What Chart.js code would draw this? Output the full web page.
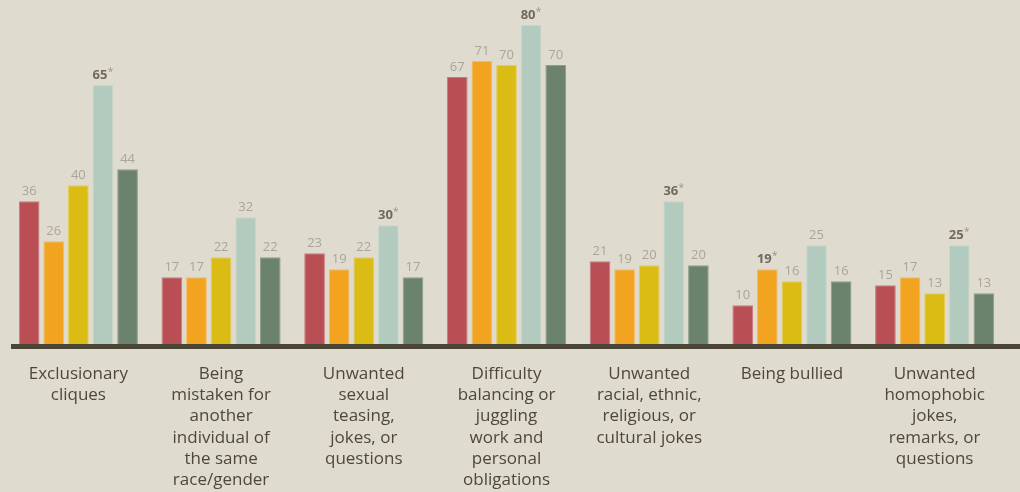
<!DOCTYPE html>
<html>
<head>
<meta charset="utf-8">
<script src="https://cdn.jsdelivr.net/npm/chart.js@4"></script>
<style>
  html, body { margin: 0; padding: 0; background: #dfdbcf; }
  #wrap { width: 1020px; height: 492px; position: relative; }
</style>
</head>
<body>
<div id="wrap"><canvas id="chart"></canvas></div>
<script>
// categories (one label line per entry)
const categories = [
  ["Exclusionary", "cliques"],
  ["Being", "mistaken for", "another", "individual of", "the same", "race/gender"],
  ["Unwanted", "sexual", "teasing,", "jokes, or", "questions"],
  ["Difficulty", "balancing or", "juggling", "work and", "personal", "obligations"],
  ["Unwanted", "racial, ethnic,", "religious, or", "cultural jokes"],
  ["Being bullied"],
  ["Unwanted", "homophobic", "jokes,", "remarks, or", "questions"]
]

// series values, percent
const group1 = [36, 17, 23, 67, 21, 10, 15]
const group2 = [26, 17, 19, 71, 19, 19, 17]
const group3 = [40, 22, 22, 70, 20, 16, 13]
const group4 = [65, 32, 30, 80, 36, 25, 25]
const group5 = [44, 22, 17, 70, 20, 16, 13]

// values flagged with an asterisk
const starred = [
  [false, false, false, false, false, false, false],
  [false, false, false, false, false, true, false],
  [false, false, false, false, false, false, false],
  [true, false, true, true, true, false, true],
  [false, false, false, false, false, false, false]
]

const fills = ["#b94f55", "#f2a420", "#dbbc15", "#b3cbbe", "#6b836d"]
const edges = ["#c97a7c", "#f5bb5c", "#e4cd55", "#c6d8cd", "#8c9f8d"]

const seriesValues = [group1, group2, group3, group4, group5]

// value labels above each bar
const valueLabels = {
  id: "valueLabels",
  afterDatasetsDraw(chart) {
    const ctx = chart.ctx
    ctx.save()
    ctx.textAlign = "center"
    ctx.textBaseline = "middle"
    chart.data.datasets.forEach((ds, di) => {
      const meta = chart.getDatasetMeta(di)
      meta.data.forEach((bar, i) => {
        const v = ds.data[i]
        if (starred[di][i]) {
          ctx.font = "bold 13px 'Open Sans'"
          ctx.fillStyle = "#6f6a5b"
          const w = ctx.measureText(String(v)).width
          ctx.fillText(String(v), bar.x - 3, bar.y - 10)
          ctx.font = "10px 'Open Sans'"
          ctx.fillStyle = "#9a9586"
          ctx.fillText("*", bar.x - 3 + w / 2 + 3, bar.y - 13)
        } else {
          ctx.font = "13px 'Open Sans'"
          ctx.fillStyle = "#aaa598"
          ctx.fillText(String(v), bar.x, bar.y - 10)
        }
      })
    })
    ctx.restore()
  }
}

// baseline and category names
const baseline = {
  id: "baseline",
  afterDraw(chart) {
    const ctx = chart.ctx
    const xs = chart.scales.x
    ctx.save()
    ctx.fillStyle = "#4a4535"
    ctx.fillRect(11, 344, chart.width - 11, 5)

    ctx.font = "17px 'Open Sans'"
    ctx.fillStyle = "#4d4839"
    ctx.textAlign = "center"
    ctx.textBaseline = "middle"
    categories.forEach((lines, i) => {
      const x = xs.getPixelForValue(i)
      lines.forEach((line, j) => {
        ctx.fillText(line, x, 374 + j * 21.3)
      })
    })
    ctx.restore()
  }
}

new Chart(document.getElementById("chart"), {
  type: "bar",
  data: {
    labels: categories.map(c => c.join(" ")),
    datasets: seriesValues.map((vals, k) => ({
      label: "Group " + (k + 1),
      data: vals,
      backgroundColor: fills[k],
      borderColor: edges[k],
      borderWidth: 1,
      borderSkipped: "bottom",
      categoryPercentage: 0.862,
      barPercentage: 0.84
    }))
  },
  options: {
    responsive: true,
    maintainAspectRatio: false,
    animation: false,
    layout: { padding: { left: 7, right: 14, top: 0, bottom: 146.7 } },
    scales: {
      x: { display: false },
      y: { display: false, min: 0, max: 86.24 }
    },
    plugins: {
      legend: { display: false },
      tooltip: { enabled: false }
    }
  },
  plugins: [valueLabels, baseline]
})
</script>
</body>
</html>
